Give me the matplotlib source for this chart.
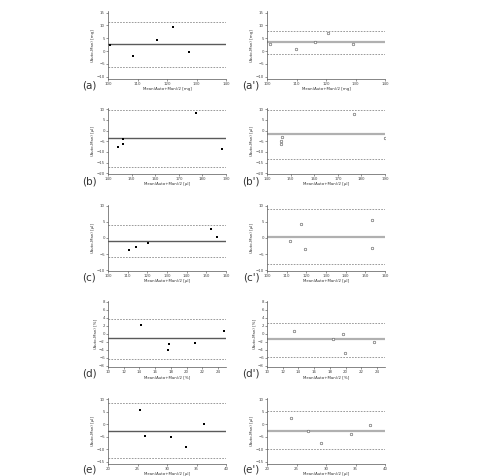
import matplotlib
matplotlib.use("Agg")
import matplotlib.pyplot as plt
import numpy as np

# (a) / (a') - [mg]
a_x = [100.8, 108.4, 116.6, 122.0, 127.5]
a_y = [2.4, -1.9, 4.3, 9.3, -0.4]
a_lines = [2.7, 11.4, -6.1]
a2_x = [100.9, 109.7, 116.2, 120.7, 129.0]
a2_y = [2.9, 0.7, 3.5, 6.9, 2.8]
a2_lines = [3.4, 8.0, -1.1]

# (b) / (b') - [µl]
b_x = [144.2, 146.2, 146.4, 177.4, 188.4]
b_y = [-7.5, -6.1, -3.75, 8.1, -8.75]
b_lines = [-3.7, 9.8, -17.2]
b2_x = [146.3, 146.1, 146.1, 176.9, 190.0]
b2_y = [-3.0, -4.7, -6.4, 7.8, -3.4]
b2_lines = [-1.7, 9.5, -13.4]

# (c) / (c') - [µl]
c_x = [110.5, 114.1, 120.3, 152.2, 155.3]
c_y = [-3.7, -2.7, -1.65, 2.8, 0.3]
c_lines = [-1.0, 4.1, -6.0]
c2_x = [111.8, 117.2, 119.4, 153.4, 153.5]
c2_y = [-0.8, 4.3, -3.5, 5.6, -3.0]
c2_lines = [0.4, 8.9, -8.0]

# (d) / (d') - [%]
d_x = [14.25, 17.6, 17.75, 21.1, 24.8]
d_y = [2.25, -4.0, -2.6, -2.3, 0.6]
d_lines = [-1.1, 3.8, -6.4]
d2_x = [13.4, 18.4, 19.6, 19.95, 23.55]
d2_y = [0.75, -1.2, 0.0, -4.8, -2.1]
d2_lines = [-1.25, 2.75, -5.7]

# (e) / (e') - [µl]
e_x = [25.5, 26.2, 30.6, 33.3, 36.3]
e_y = [5.6, -4.8, -5.0, -9.0, 0.0]
e_lines = [-2.6, 8.4, -13.7]
e2_x = [24.1, 27.0, 29.2, 34.3, 37.4]
e2_y = [2.5, -2.7, -7.6, -3.8, -0.4]
e2_lines = [-2.6, 5.35, -10.0]

units = ["mg", "µl", "µl", "%", "µl"]
x_ticks = [np.arange(100, 141, 10), np.arange(140, 191, 10), np.arange(100, 161, 10),
           np.arange(10, 25, 2), np.arange(20, 41, 5)]
x_lims = [(100, 140), (140, 190), (100, 160), (10, 25), (20, 40)]
y_ticks = [np.arange(-10, 16, 5), np.arange(-20, 11, 5), np.arange(-10, 11, 5),
           np.arange(-8, 9, 2), np.arange(-15, 11, 5)]
y_lims = [(-11, 15.5), (-20.5, 10.5), (-10.3, 10.3), (-8.3, 8.3), (-16, 10.5)]
tags = ["a", "b", "c", "d", "e"]

left_data = [(a_x, a_y, a_lines), (b_x, b_y, b_lines), (c_x, c_y, c_lines),
             (d_x, d_y, d_lines), (e_x, e_y, e_lines)]
right_data = [(a2_x, a2_y, a2_lines), (b2_x, b2_y, b2_lines), (c2_x, c2_y, c2_lines),
              (d2_x, d2_y, d2_lines), (e2_x, e2_y, e2_lines)]

W, H = 480, 476
fig = plt.figure(figsize=(W / 100, H / 100), dpi=100)
fig.patch.set_facecolor("white")

# pixel boxes (top, bottom) of each row, and left/right of each column
row_px = [(11.4, 79.2), (108.2, 174.3), (204.7, 271.3), (300.5, 366.9), (397.8, 464.0)]
col_px = [(108, 226), (267, 385)]
label_y = [86, 181, 278, 374, 470]
label_x = [89, 251]


def draw_panel(ax, x, y, lines, i, right):
    bias, upper, lower = lines
    if right:
        ax.axhline(bias, color="#b0b0b0", lw=1.6, zorder=1)
        ax.scatter(x, y, s=3.5, facecolors="white", edgecolors="#555555",
                   linewidths=0.4, zorder=3)
    else:
        ax.axhline(bias, color="#5a5a5a", lw=1.0, zorder=1)
        ax.scatter(x, y, s=3.5, c="black", marker="s", linewidths=0, zorder=3)
    for v in (upper, lower):
        ax.axhline(v, color="#8a8a8a", lw=0.6, ls=(0, (2, 1.5)), zorder=1)
    ax.set_xlim(*x_lims[i])
    ax.set_ylim(*y_lims[i])
    ax.set_xticks(x_ticks[i])
    ax.set_yticks(y_ticks[i])
    for s in ("top", "right"):
        ax.spines[s].set_visible(False)
    for s in ("left", "bottom"):
        ax.spines[s].set_linewidth(0.5)
        ax.spines[s].set_color("#555555")
    ax.tick_params(length=1.5, width=0.4, labelsize=2.8, pad=0.8, colors="#444444")
    ax.set_xlabel(f"Mean(Auto+Man)/2 [{units[i]}]", fontsize=2.8, labelpad=0.6, color="#333333")
    ax.set_ylabel(f"(Auto-Man) [{units[i]}]", fontsize=2.8, labelpad=1.2, color="#333333")


for i in range(5):
    top, bot = row_px[i]
    for c, data in enumerate((left_data[i], right_data[i])):
        l, r = col_px[c]
        ax = fig.add_axes([l / W, 1 - bot / H, (r - l) / W, (bot - top) / H])
        draw_panel(ax, *data, i, right=(c == 1))
        tag = f"({tags[i]})" if c == 0 else f"({tags[i]}')"
        fig.text(label_x[c] / W, 1 - label_y[i] / H, tag, fontsize=7.5,
                 ha="center", va="center", color="#333333")

fig.savefig("out.png", dpi=100, facecolor="white")
